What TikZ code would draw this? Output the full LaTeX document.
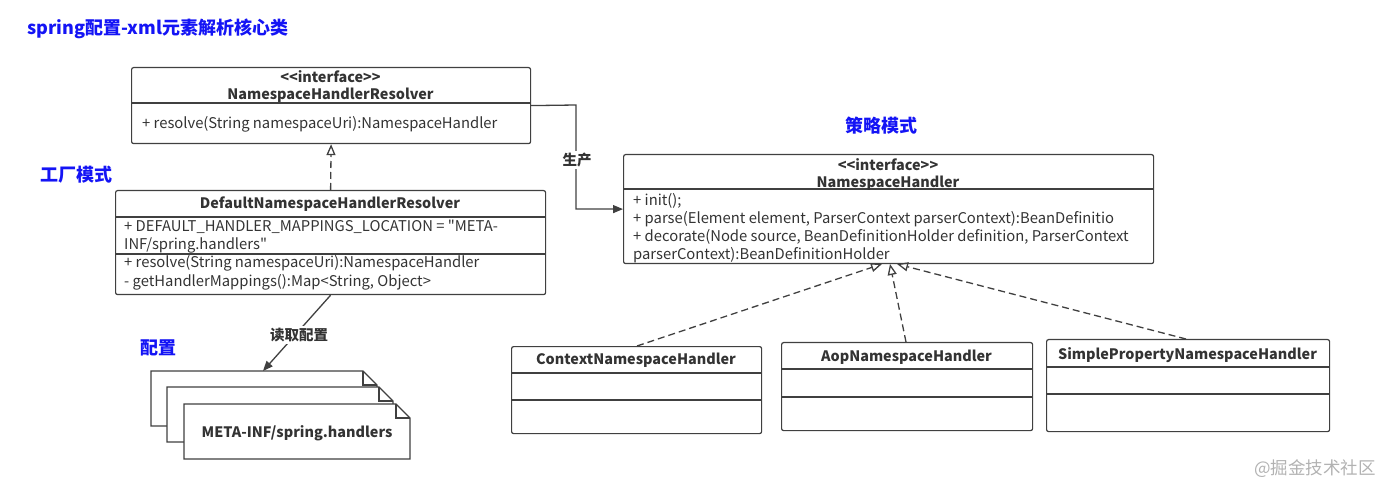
\documentclass[tikz,border=0pt]{standalone}
\usepackage{fontspec}
\setmainfont{Noto Sans CJK SC}
\newfontfamily\plainf{Noto Sans CJK SC}
\usetikzlibrary{arrows.meta}
\definecolor{ttl}{RGB}{20,20,245}
\definecolor{ink}{RGB}{51,51,51}
\definecolor{edge}{RGB}{64,64,64}
\newcommand{\stereo}{<{}<interface>{}>}
\begin{document}
\begin{tikzpicture}[x=1pt,y=-1pt,
  every node/.style={inner sep=0pt, text=ink},
  cbox/.style={draw=edge, line width=1.2pt, rounded corners=2pt, anchor=north west},
  divl/.style={draw=edge, line width=1.2pt},
  cname/.style={font=\plainf\fontsize{14.4}{16}\selectfont\bfseries},
  mtxt/.style={font=\plainf\fontsize{14.8}{16}\selectfont, anchor=west},
  blue/.style={font=\plainf\fontsize{18}{20}\selectfont\bfseries, text=ttl},
  lbl/.style={font=\plainf\fontsize{14.5}{16}\selectfont\bfseries, fill=white, inner sep=2pt},
  conn/.style={draw=edge, line width=1.3pt},
  realize/.style={conn, dash pattern=on 7pt off 4pt, -{Triangle[open, length=11pt, width=9pt]}},
  solidarr/.style={conn, -{Triangle[length=10pt, width=8pt]}},
  docsh/.style={draw=edge, line width=1.2pt, fill=white}
]
\useasboundingbox (0,0) rectangle (1395,494);

% title and pattern labels
\node[blue, anchor=west] (title) at (27,29) {spring配置-xml元素解析核心类};
\node[blue] (factory) at (76,175) {工厂模式};
\node[blue] (strategy) at (881,126) {策略模式};
\node[blue] (cfg) at (158,348) {配置};

% NamespaceHandlerResolver
\node[cbox, minimum width=399pt, minimum height=76pt] (nhr) at (131,67) {};
\draw[divl] (131,103) -- (530,103);
\node[cname] (nhrs) at (330.5,77) {\stereo};
\node[cname] (nhrn) at (330.5,95) {NamespaceHandlerResolver};
\node[mtxt] (nhrm) at (142,124) {+ resolve(String namespaceUri):NamespaceHandler};

% DefaultNamespaceHandlerResolver
\node[cbox, minimum width=430pt, minimum height=104pt] (dnhr) at (115,190) {};
\draw[divl] (115,217) -- (545,217);
\draw[divl] (115,254) -- (545,254);
\node[cname] (dnhrn) at (330,204) {DefaultNamespaceHandlerResolver};
\node[mtxt] (dnhra1) at (124,227) {+ DEFAULT\_HANDLER\_MAPPINGS\_LOCATION = "META-};
\node[mtxt] (dnhra2) at (124,245) {INF/spring.handlers"};
\node[mtxt] (dnhrm1) at (124,263) {+ resolve(String namespaceUri):NamespaceHandler};
\node[mtxt] (dnhrm2) at (124,282) {- getHandlerMappings():Map<String, Object>};

% NamespaceHandler
\node[cbox, minimum width=530pt, minimum height=109pt] (nh) at (623,154) {};
\draw[divl] (623,189) -- (1153,189);
\node[cname] (nhs) at (888,165) {\stereo};
\node[cname] (nhn) at (888,183) {NamespaceHandler};
\node[mtxt] (nhm1) at (633,201) {+ init();};
\node[mtxt] (nhm2) at (633,219) {+ parse(Element element, ParserContext parserContext):BeanDefinitio};
\node[mtxt] (nhm3) at (633,237) {+ decorate(Node source, BeanDefinitionHolder definition, ParserContext};
\node[mtxt] (nhm4) at (633,255) {parserContext):BeanDefinitionHolder};

% implementations
\node[cbox, minimum width=250pt, minimum height=87pt] (ctx) at (511,346) {};
\draw[divl] (511,373) -- (761,373);
\draw[divl] (511,400) -- (761,400);
\node[cname] (ctxn) at (636,360) {ContextNamespaceHandler};

\node[cbox, minimum width=251pt, minimum height=88pt] (aop) at (781,342) {};
\draw[divl] (781,369) -- (1032,369);
\draw[divl] (781,397) -- (1032,397);
\node[cname] (aopn) at (906.5,357) {AopNamespaceHandler};

\node[cbox, minimum width=283pt, minimum height=92pt] (spn) at (1046,339) {};
\draw[divl] (1046,367) -- (1329,367);
\draw[divl] (1046,394) -- (1329,394);
\node[cname] (spnn) at (1187.5,355) {SimplePropertyNamespaceHandler};

% config documents
\foreach \dx/\dy in {0/0,16/16,33/33}{
  \draw[docsh] (151+\dx,371+\dy) -- (363+\dx,371+\dy) -- (377+\dx,385+\dy) -- (377+\dx,426+\dy) -- (151+\dx,426+\dy) -- cycle;
  \draw[divl] (363+\dx,371+\dy) -- (363+\dx,385+\dy) -- (377+\dx,385+\dy);
}
\node[cname] (doc) at (297,433) {META-INF/spring.handlers};
\coordinate (doctop) at (263,371);

% connectors
\draw[realize] (dnhr.north) -- (nhr.south);
\draw[solidarr] (nhr.east) -- (576,105) |- (nh.west);
\node[lbl] (prod) at (577,160) {生产};
\draw[solidarr] (dnhr.south) -- (doctop);
\node[lbl] (read) at (299,335) {读取配置};
\draw[realize] (ctx.north -| 637,0) -- (882,264);
\draw[realize] (aop.north -| 906,0) -- (890,264);
\draw[realize] (spn.north -| 1186,0) -- (897,264);

% watermark
\node[font=\plainf\fontsize{17.5}{19}\selectfont, text=gray!60] (wm) at (1315,469) {@掘金技术社区};
\end{tikzpicture}
\end{document}
